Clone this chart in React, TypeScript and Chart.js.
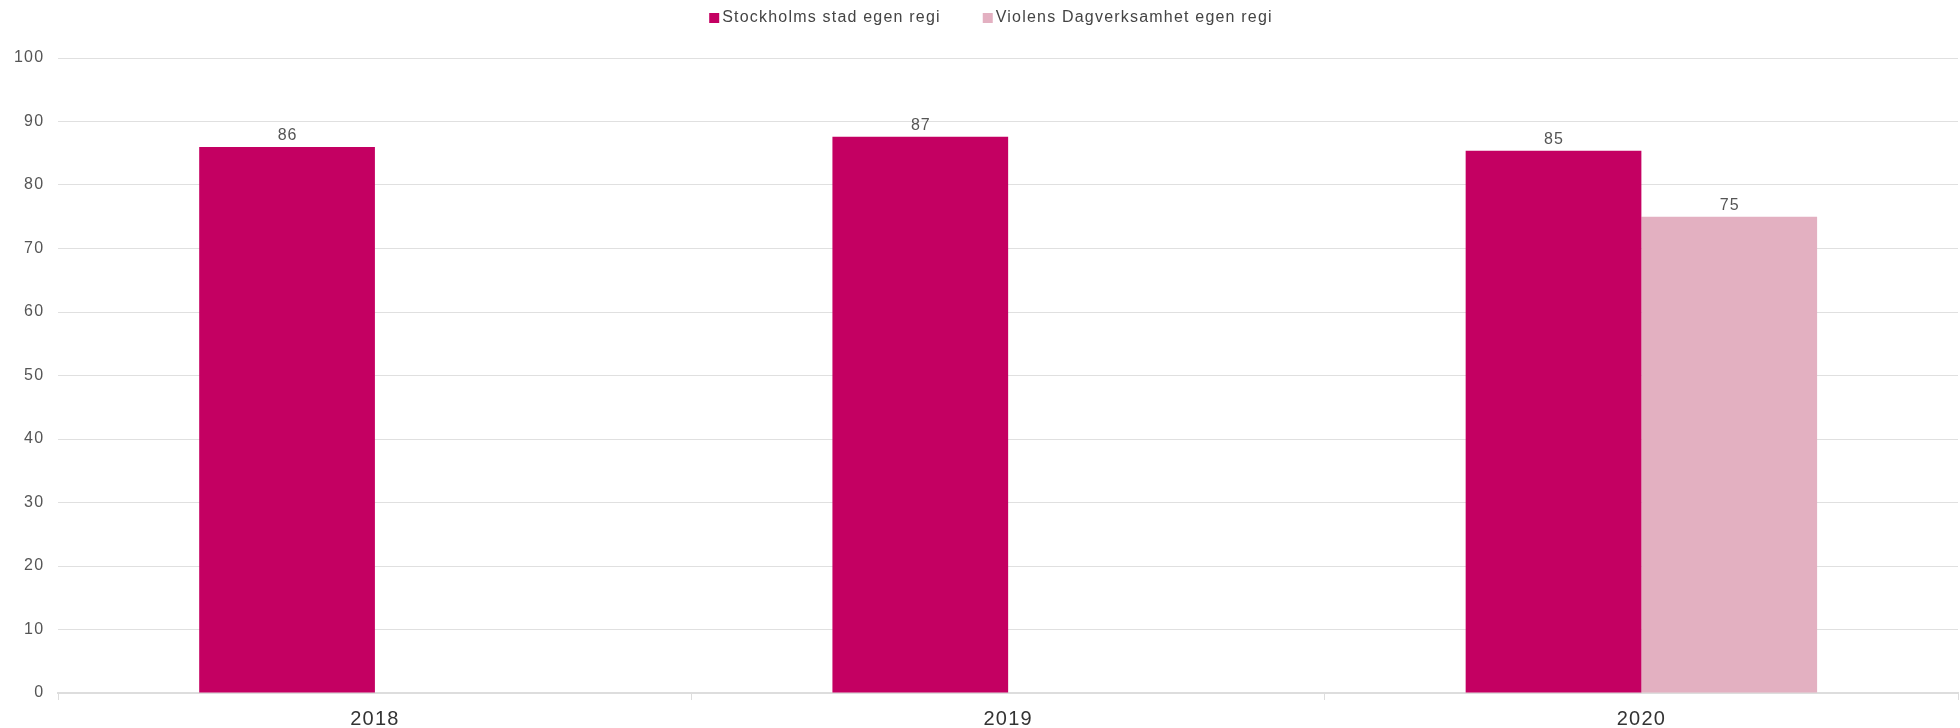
import React, { useEffect, useRef } from "react";
import { Chart, registerables } from "chart.js";

Chart.register(...registerables);

const categories = ["2018", "2019", "2020"];
const seriesNames = ["Stockholms stad egen regi", "Violens Dagverksamhet egen regi"];
const stockholmValues: (number | null)[] = [86, 87.6, 85.4];
const violensValues: (number | null)[] = [null, null, 75];
const seriesColors = ["#c40062", "#e3b0c1"];
const yTicks = [0, 10, 20, 30, 40, 50, 60, 70, 80, 90, 100];

const FONT = "'Liberation Sans', Arial, sans-serif";
const SPACING = "1.2px";

const spacingPlugin = {
  id: "letterSpacing",
  beforeInit(chart: any) {
    chart.ctx.letterSpacing = SPACING;
  },
  beforeUpdate(chart: any) {
    chart.ctx.letterSpacing = SPACING;
  },
  beforeDraw(chart: any) {
    chart.ctx.letterSpacing = SPACING;
  },
};

const legendPlugin = {
  id: "customLegend",
  afterDraw(chart: any) {
    const ctx = chart.ctx;
    ctx.save();
    ctx.letterSpacing = SPACING;
    ctx.font = `16px ${FONT}`;
    ctx.textBaseline = "middle";
    ctx.textAlign = "left";
    const box = 10;
    const gapText = 3;
    const gapItem = 42;
    const items = chart.data.datasets.map((ds: any) => ({
      label: ds.label,
      color: ds.backgroundColor,
      w: ctx.measureText(ds.label).width,
    }));
    const total =
      items.reduce((s: number, it: any) => s + box + gapText + it.w, 0) + gapItem * (items.length - 1);
    let x = (chart.width - total) / 2 + 11;
    const cy = 18;
    items.forEach((it: any) => {
      ctx.fillStyle = it.color;
      ctx.fillRect(x, cy - box / 2, box, box);
      ctx.fillStyle = "#444444";
      ctx.fillText(it.label, x + box + gapText, cy);
      x += box + gapText + it.w + gapItem;
    });
    ctx.restore();
  },
};

const valueLabelPlugin = {
  id: "valueLabels",
  afterDatasetsDraw(chart: any) {
    const ctx = chart.ctx;
    ctx.save();
    ctx.letterSpacing = "1px";
    ctx.font = `16px ${FONT}`;
    ctx.fillStyle = "#555555";
    ctx.textAlign = "center";
    ctx.textBaseline = "alphabetic";
    chart.data.datasets.forEach((ds: any, i: number) => {
      const meta = chart.getDatasetMeta(i);
      meta.data.forEach((el: any, j: number) => {
        const v = ds.data[j];
        if (v === null || v === undefined) return;
        ctx.fillText(String(Math.floor(v)), el.x + 0.5, el.y - 7);
      });
    });
    ctx.restore();
  },
};

export default function App() {
  const ref = useRef<HTMLCanvasElement>(null);
  useEffect(() => {
    document.body.style.margin = "0";
    const chart = new Chart(ref.current!, {
      type: "bar",
      data: {
        labels: categories,
        datasets: [
          { label: seriesNames[0], data: stockholmValues, backgroundColor: seriesColors[0], borderWidth: 0 },
          { label: seriesNames[1], data: violensValues, backgroundColor: seriesColors[1], borderWidth: 0 },
        ],
      },
      options: {
        animation: false,
        responsive: false,
        maintainAspectRatio: false,
        layout: { padding: { top: 58, right: 2, left: 0, bottom: -10 } },
        plugins: {
          legend: { display: false },
          tooltip: { enabled: false },
        },
        scales: {
          x: {
            grid: { drawOnChartArea: false, drawTicks: true, tickLength: 7, color: "#dddddd", offset: true },
            border: { color: "#dddddd", width: 2 },
            ticks: { color: "#333333", font: { family: FONT, size: 20, lineHeight: 0.6 }, padding: 13 },
          },
          y: {
            min: 0,
            max: 100,
            afterBuildTicks: (axis: any) => {
              axis.ticks = yTicks.map((v) => ({ value: v }));
            },
            grid: { color: "#e0e0e0", drawTicks: false },
            border: { display: false },
            ticks: { color: "#555555", font: { family: FONT, size: 16 }, padding: 14 },
          },
        },
        datasets: { bar: { categoryPercentage: 0.555, barPercentage: 1 } },
      } as any,
      plugins: [spacingPlugin, valueLabelPlugin, legendPlugin],
    });
    return () => chart.destroy();
  }, []);
  return (
    <div style={{ width: 1960, height: 728 }}>
      <canvas ref={ref} width={1960} height={728} style={{ display: "block" }} />
    </div>
  );
}
